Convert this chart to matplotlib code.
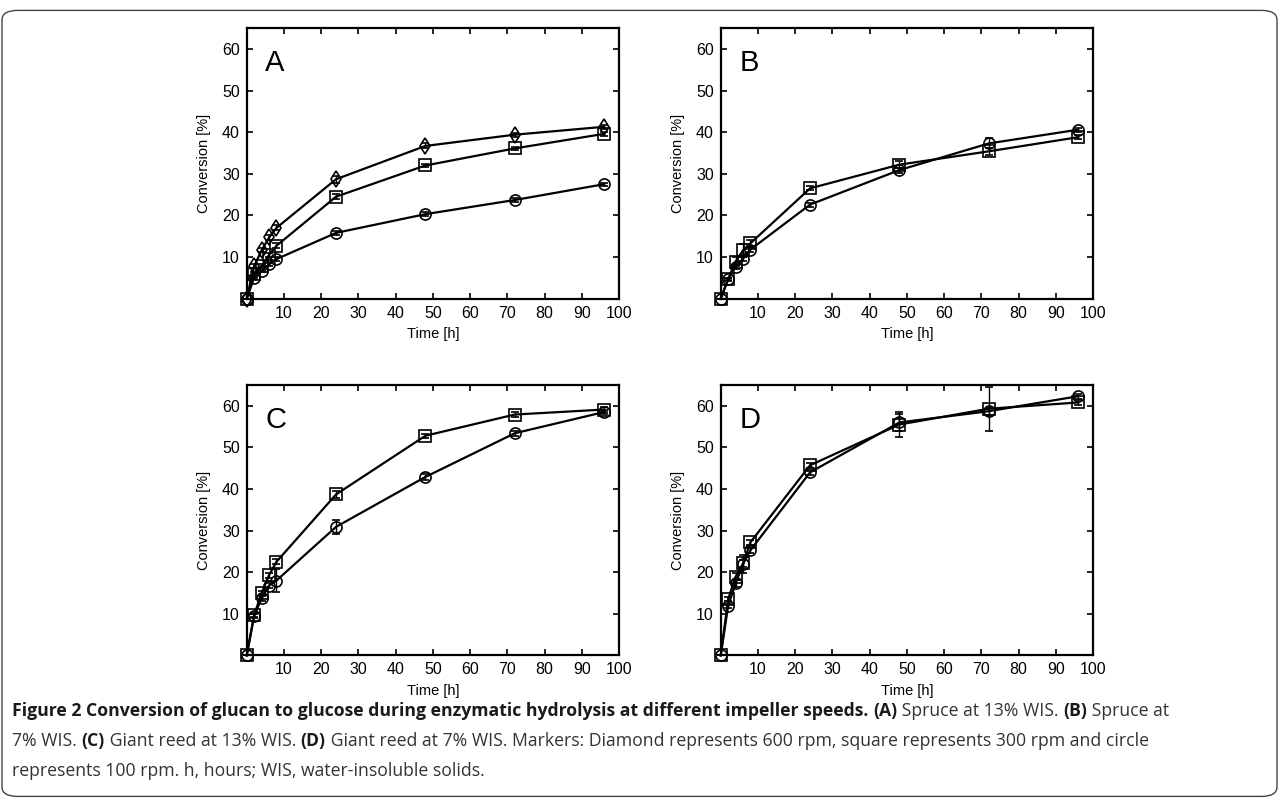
import matplotlib
matplotlib.use("Agg")
import matplotlib.pyplot as plt
from matplotlib import font_manager
from matplotlib.patches import FancyBboxPatch

# sampling times [h]
t = [0, 2, 4, 6, 8, 24, 48, 72, 96]

# (A) spruce 13% WIS
A_600 = [0, 7.8, 11.6, 14.7, 17.0, 28.7, 36.7, 39.4, 41.3]
A_600_err = [0, 0.4, 0.5, 0.6, 0.6, 0.8, 0.6, 0.5, 0.5]
A_300 = [0, 6.0, 7.8, 10.5, 12.7, 24.5, 32.0, 36.1, 39.6]
A_300_err = [0, 0.3, 0.4, 0.5, 0.6, 0.6, 0.4, 0.4, 0.5]
A_100 = [0, 5.0, 6.6, 8.2, 9.5, 15.8, 20.3, 23.7, 27.5]
A_100_err = [0, 0.3, 0.3, 0.4, 0.4, 0.4, 0.4, 0.4, 0.4]

# (B) spruce 7% WIS
B_300 = [0, 4.7, 8.9, 11.6, 13.3, 26.5, 32.2, 35.4, 38.8]
B_300_err = [0, 0.3, 1.0, 1.5, 0.8, 0.5, 0.8, 0.8, 0.5]
B_100 = [0, 4.6, 7.6, 9.6, 11.8, 22.6, 30.9, 37.3, 40.6]
B_100_err = [0, 0.3, 0.5, 0.5, 0.6, 0.5, 0.6, 1.2, 0.5]

# (C) giant reed 13% WIS
C_300 = [0, 9.7, 15.0, 19.3, 22.5, 38.7, 52.8, 57.9, 59.1]
C_300_err = [0, 0.5, 0.6, 0.6, 0.6, 0.8, 0.5, 0.6, 0.5]
C_100 = [0, 9.5, 13.7, 16.8, 18.0, 30.9, 42.9, 53.4, 58.5]
C_100_err = [0, 0.5, 0.6, 0.6, 2.8, 1.6, 0.8, 0.6, 0.5]

# (D) giant reed 7% WIS
D_300 = [0, 13.5, 18.9, 22.1, 27.2, 45.7, 55.5, 59.3, 60.8]
D_300_err = [0, 0.5, 0.8, 0.8, 0.6, 0.6, 3.0, 5.3, 0.6]
D_100 = [0, 11.9, 17.3, 22.0, 25.3, 44.0, 56.0, 58.7, 62.3]
D_100_err = [0, 0.5, 0.8, 2.2, 0.8, 0.6, 2.0, 0.8, 0.6]

panels = [
    ("A", [(A_600, A_600_err, "d"), (A_300, A_300_err, "s"), (A_100, A_100_err, "o")]),
    ("B", [(B_300, B_300_err, "s"), (B_100, B_100_err, "o")]),
    ("C", [(C_300, C_300_err, "s"), (C_100, C_100_err, "o")]),
    ("D", [(D_300, D_300_err, "s"), (D_100, D_100_err, "o")]),
]

xticks = [10, 20, 30, 40, 50, 60, 70, 80, 90, 100]
yticks = [10, 20, 30, 40, 50, 60]

caption_bold = "Figure 2 Conversion of glucan to glucose during enzymatic hydrolysis at different impeller speeds."
caption_lines = [
    [(caption_bold, True), (" ", False), ("(A)", True), (" Spruce at 13% WIS. ", False),
     ("(B)", True), (" Spruce at", False)],
    [("7% WIS. ", False), ("(C)", True), (" Giant reed at 13% WIS. ", False), ("(D)", True),
     (" Giant reed at 7% WIS. Markers: Diamond represents 600 rpm, square represents 300 rpm and circle", False)],
    [("represents 100 rpm. h, hours; WIS, water-insoluble solids.", False)],
]


def pick_font(names):
    for n in names:
        try:
            font_manager.findfont(n, fallback_to_default=False)
            return n
        except Exception:
            pass
    return "DejaVu Sans"


plot_font = pick_font(["Liberation Sans", "Arial"])
cap_font = pick_font(["Open Sans", "Roboto"])
plt.rcParams["font.family"] = [plot_font, "DejaVu Sans"]

fig = plt.figure(figsize=(12.81, 7.98), dpi=100)
W, H = 1281, 798

# axes boxes in pixels: left, top
boxes = [(246.7, 28.2), (720.7, 28.2), (246.7, 385), (720.7, 385)]
aw, ah = 372.3, 270.4

for (letter, series), (px, py) in zip(panels, boxes):
    ax = fig.add_axes([px / W, 1 - (py + ah) / H, aw / W, ah / H])
    for y, e, m in series:
        ax.errorbar(t, y, yerr=e, marker=m, color="black", mfc="none", mec="black",
                    ms=8 if m != "d" else 8.5, mew=1.2, lw=1.6, elinewidth=1.0,
                    capsize=3, capthick=1.0, clip_on=False, zorder=3)
    ax.set_xlim(0, 100)
    ax.set_ylim(0, 65)
    ax.set_xticks(xticks)
    ax.set_yticks(yticks)
    ax.tick_params(direction="in", top=True, right=True, length=4, width=1.2,
                   labelsize=11.5, pad=5)
    for sp in ax.spines.values():
        sp.set_linewidth(1.6)
    ax.set_xlabel("Time [h]", fontsize=10.5, labelpad=5)
    ax.set_ylabel("Conversion [%]", fontsize=10.5, labelpad=8)
    ax.text(0.05, 0.87, letter, transform=ax.transAxes, fontsize=21,
            ha="left", va="center")

# outer border of the figure panel
border = FancyBboxPatch((2 / W, 0.002), 1275 / W, (798 - 10 - 2) / H,
                        boxstyle="round,pad=0,rounding_size=0.012",
                        transform=fig.transFigure, fill=False,
                        ec="#444444", lw=1.0)
fig.patches.append(border)

# caption, mixing bold and normal runs; size fitted between the widths of lines 1 and 2
fig.canvas.draw()
renderer = fig.canvas.get_renderer()


def run_width(runs, size):
    total = 0
    for txt, bold in runs:
        tt = fig.text(0, 0, txt, fontsize=size, family=[cap_font, "DejaVu Sans"],
                      fontweight="bold" if bold else "normal")
        total += tt.get_window_extent(renderer).width
        tt.remove()
    return total


s1 = 12 * (1270 - 12) / run_width(caption_lines[0], 12)
s2 = 12 * (1160 - 12) / run_width(caption_lines[1], 12)
cap_size = 0.95 * 0.5 * (s1 + s2)
line_y = [711, 741, 771]
for runs, ly in zip(caption_lines, line_y):
    x = 12
    for txt, bold in runs:
        tt = fig.text(x / W, 1 - ly / H, txt, fontsize=cap_size, va="center", ha="left",
                      family=[cap_font, "DejaVu Sans"],
                      fontweight="bold" if bold else "normal",
                      color="#1a1a1a" if bold else "#333333")
        x += tt.get_window_extent(renderer).width

fig.savefig("out.png", dpi=100)
